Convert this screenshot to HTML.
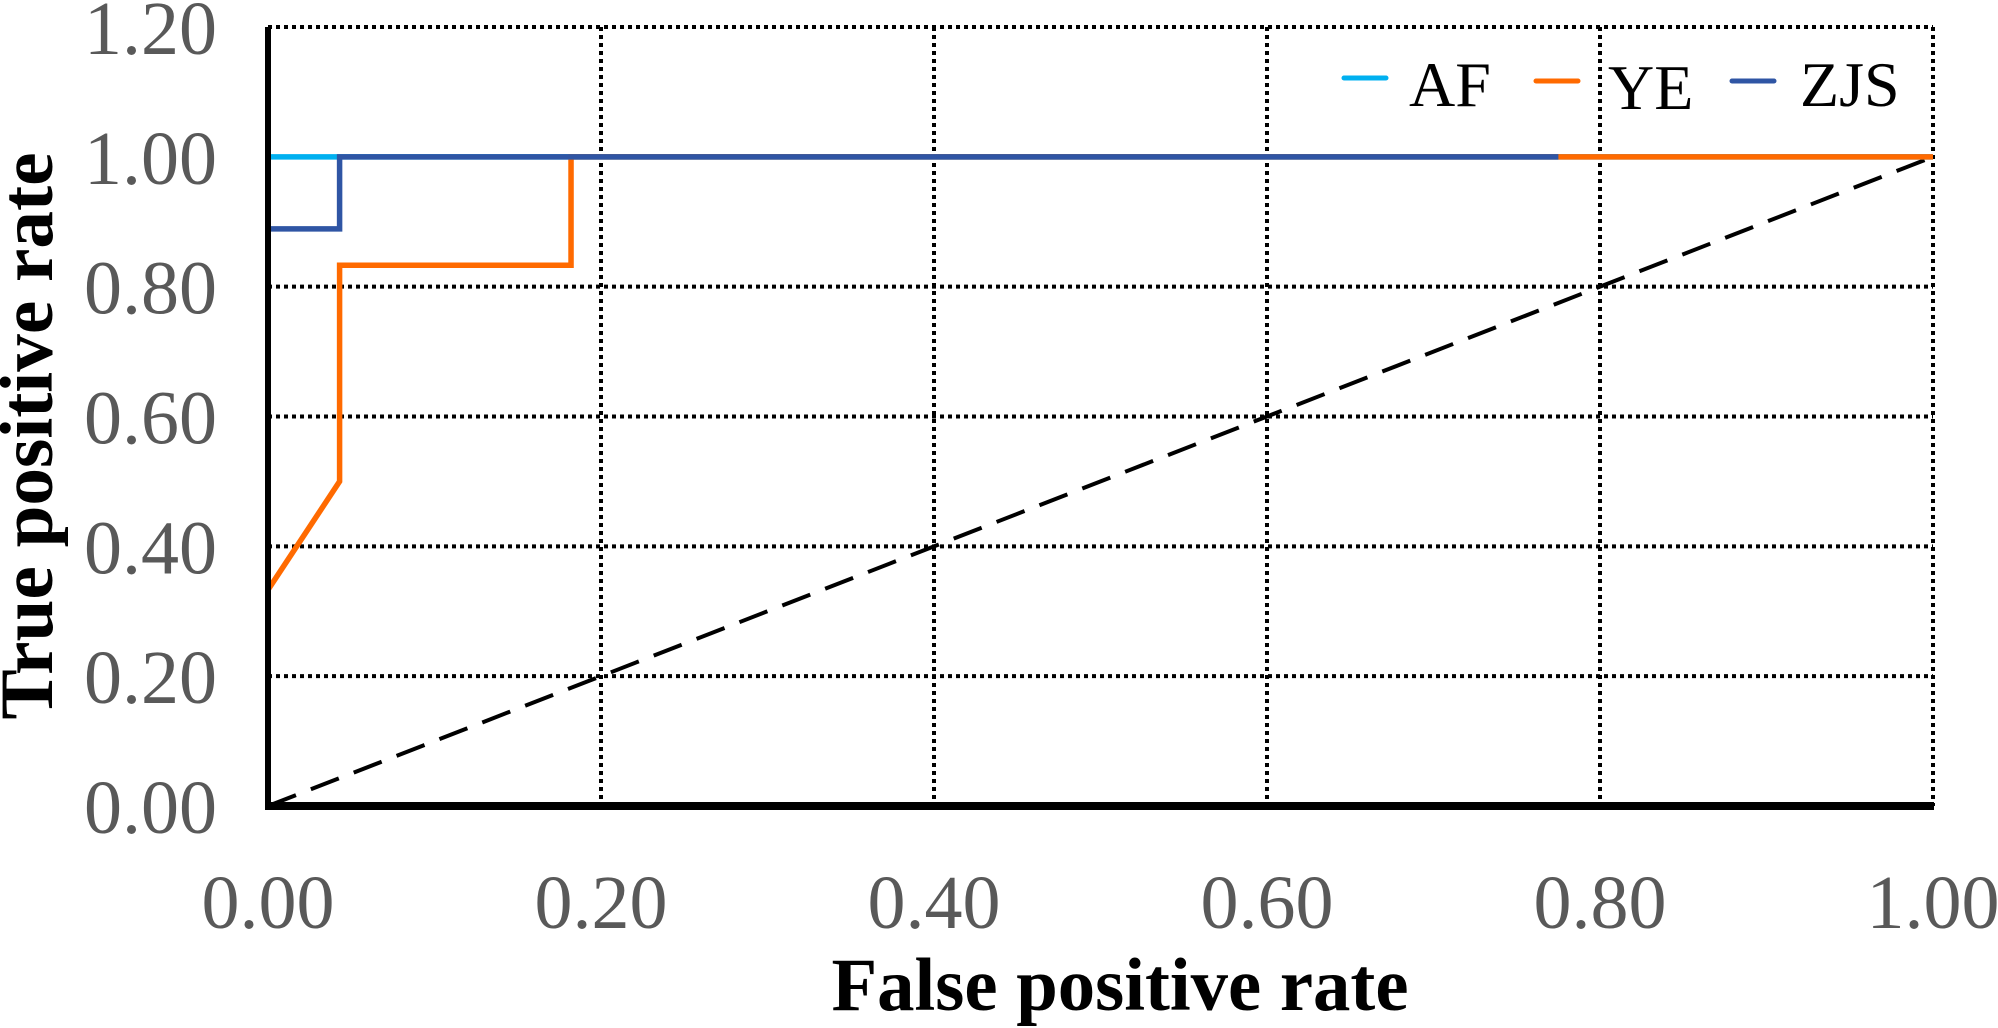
<!DOCTYPE html>
<html><head><meta charset="utf-8"><style>html,body{margin:0;padding:0;background:#fff}svg{display:block}</style></head>
<body>
<svg id="chart" width="1998" height="1028" viewBox="0 0 1998 1028" xmlns="http://www.w3.org/2000/svg">
<g id="grid"></g>
<line id="diag" stroke="#000" stroke-width="4" stroke-dasharray="30,16"/>
<g id="series"></g>
<line x1="268" y1="27" x2="268" y2="810" stroke="#000" stroke-width="6"/>
<line x1="265" y1="806" x2="1934" y2="806" stroke="#000" stroke-width="8"/>
<g id="yticks"></g>
<g id="xticks"></g>
<text transform="translate(1120,1010) scale(1,1.1)" text-anchor="middle" font-family="Liberation Serif, serif" font-weight="bold" font-size="68" textLength="577" lengthAdjust="spacingAndGlyphs">False positive rate</text>
<text transform="translate(52,436) rotate(-90) scale(1,1.1)" text-anchor="middle" font-family="Liberation Serif, serif" font-weight="bold" font-size="68" textLength="567" lengthAdjust="spacingAndGlyphs">True positive rate</text>
<g>
<line x1="1344" y1="78" x2="1386" y2="78" stroke="#00B0F0" stroke-width="5" stroke-linecap="round"/>
<text x="1409" y="106" font-family="Liberation Serif, serif" font-size="64">AF</text>
<line x1="1536" y1="81" x2="1578" y2="81" stroke="#FF6A00" stroke-width="5" stroke-linecap="round"/>
<text x="1608" y="109" font-family="Liberation Serif, serif" font-size="64">YE</text>
<line x1="1732" y1="81" x2="1774" y2="81" stroke="#2F55A4" stroke-width="5" stroke-linecap="round"/>
<text x="1800" y="106" font-family="Liberation Serif, serif" font-size="64">ZJS</text>
</g>
</svg>
<script>
const xTicks = [0, 0.2, 0.4, 0.6, 0.8, 1.0];
const yTicks = [0, 0.2, 0.4, 0.6, 0.8, 1.0, 1.2];
const xTickLabels = ["0.00","0.20","0.40","0.60","0.80","1.00"];
const yTickLabels = ["0.00","0.20","0.40","0.60","0.80","1.00","1.20"];
const afX = [0, 0, 1];
const afY = [0, 1, 1];
const yeX = [0, 0, 0.043, 0.043, 0.182, 0.182, 1];
const yeY = [0, 0.333, 0.5, 0.833, 0.833, 1, 1];
const zjsX = [0, 0, 0.043, 0.043, 0.775];
const zjsY = [0, 0.889, 0.889, 1, 1];
const diagX = [0, 1];
const diagY = [0, 1];

const X0 = 268, X1 = 1933, Y0 = 806, Ytop = 27;
function sx(v){ return X0 + v * (X1 - X0); }
function sy(v){ return Y0 - v / 1.2 * (Y0 - Ytop); }
const NS = "http://www.w3.org/2000/svg";
const grid = document.getElementById('grid');
yTicks.forEach((t,i)=>{
  if (t === 0) return;
  const l = document.createElementNS(NS,'line');
  
  
  l.setAttribute('x1',X0); l.setAttribute('x2',X1);
  l.setAttribute('y1',sy(t)); l.setAttribute('y2',sy(t));
  l.setAttribute('stroke','#000'); l.setAttribute('stroke-width','4'); l.setAttribute('stroke-dasharray','4,4');
  grid.appendChild(l);
});
xTicks.forEach(t=>{
  if (t === 0) return;
  const l = document.createElementNS(NS,'line');
  
  
  l.setAttribute('x1',sx(t)); l.setAttribute('x2',sx(t));
  l.setAttribute('y1',Ytop); l.setAttribute('y2',Y0);
  l.setAttribute('stroke','#000'); l.setAttribute('stroke-width','4'); l.setAttribute('stroke-dasharray','4,4');
  grid.appendChild(l);
});
const d = document.getElementById('diag');
d.setAttribute('x1',sx(diagX[0])); d.setAttribute('y1',sy(diagY[0]));
d.setAttribute('x2',sx(diagX[1])); d.setAttribute('y2',sy(diagY[1]));
const series = document.getElementById('series');
function addSeries(xs, ys, color, name){
  const p = document.createElementNS(NS,'polyline');
  
  
  p.setAttribute('points', xs.map((x,i)=>sx(x)+','+sy(ys[i])).join(' '));
  p.setAttribute('fill','none'); p.setAttribute('stroke',color); p.setAttribute('stroke-width','5.5');
  series.appendChild(p);
}
addSeries(afX, afY, '#00B0F0', 'af-curve');
addSeries(yeX, yeY, '#FF6A00', 'ye-curve');
addSeries(zjsX, zjsY, '#2F55A4', 'zjs-curve');
const yt = document.getElementById('yticks');
yTicks.forEach((t,i)=>{
  const e = document.createElementNS(NS,'text');
  
  
  e.setAttribute('x',217); e.setAttribute('y',sy(t)+27);
  e.setAttribute('text-anchor','end');
  e.setAttribute('font-family','Liberation Serif, serif');
  e.setAttribute('font-size','76'); e.setAttribute('fill','#595959');
  e.textContent = yTickLabels[i];
  yt.appendChild(e);
});
const xt = document.getElementById('xticks');
xTicks.forEach((t,i)=>{
  const e = document.createElementNS(NS,'text');
  
  
  e.setAttribute('x',sx(t)); e.setAttribute('y',928);
  e.setAttribute('text-anchor','middle');
  e.setAttribute('font-family','Liberation Serif, serif');
  e.setAttribute('font-size','76'); e.setAttribute('fill','#595959');
  e.textContent = xTickLabels[i];
  xt.appendChild(e);
});
</script>
</body></html>
